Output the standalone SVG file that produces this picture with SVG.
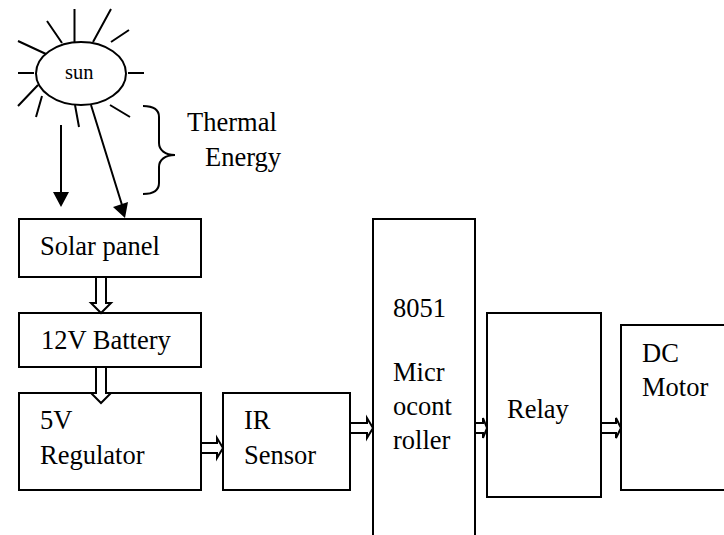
<svg xmlns="http://www.w3.org/2000/svg" width="724" height="535" viewBox="0 0 724 535">
<style>
.b{fill:#fff;stroke:#000;stroke-width:2}
.l{fill:none;stroke:#000;stroke-width:2}
.a{fill:#fff;stroke:#000;stroke-width:2}
.h{fill:#000;stroke:none}
text{font-family:"Liberation Serif","Times New Roman",serif;font-size:26.5px;fill:#000}
</style>
<rect width="724" height="535" fill="#fff"/>
<g id="sun"><ellipse class="b" cx="81" cy="73.500" rx="45" ry="31.500"/><text x="65" y="79" style="font-size:20.500px">sun</text>
<path class="l" d="M74.500 9V42M111 9L93 42M47 21L62 43M129 30L111 42M18 41L46 54M18 73H34M128 73H144M18 106L38 85M42 96L36 117M75 105L79 127M110 105L130 117"/></g>
<g id="solar-panel"><rect class="b" x="19" y="219" width="182" height="58"/><text x="40" y="255">Solar panel</text></g>
<g id="battery"><rect class="b" x="19" y="313" width="182" height="54"/><text x="41" y="349">12V Battery</text></g>
<g id="regulator"><rect class="b" x="19" y="393" width="182" height="97"/><text x="40" y="429">5V</text><text x="40" y="464">Regulator</text></g>
<g id="ir-sensor"><rect class="b" x="223" y="393" width="127" height="97"/><text x="244" y="429">IR</text><text x="244" y="464">Sensor</text></g>
<g id="microcontroller"><path class="b" d="M373 536V219H475V536"/><text x="393" y="317">8051</text><text x="393" y="381">Micr</text><text x="393" y="415">ocont</text><text x="393" y="449">roller</text></g>
<g id="relay"><rect class="b" x="487" y="313" width="114" height="184"/><text x="507" y="418">Relay</text></g>
<g id="dc-motor"><path class="b" d="M725 325H621V490H725"/><text x="642" y="362">DC</text><text x="642" y="396">Motor</text></g>
<g id="thermal-energy"><text x="187" y="131">Thermal</text><text x="205" y="166">Energy</text><path class="l" d="M143 106C153 106 159 109 159 117V143C159 150 165 155 175 155C165 155 159 160 159 167V183C159 191 153 194 143 194"/></g>
<g id="connectors">
<path class="l" d="M61 125V195M91 105L122 205"/>
<path class="h" d="M53 192H69L61 207ZM113 207L128 202L125 218Z"/>
<path class="a" d="M96 277V303H91L101 313L111 303H106V277Z"/>
<path class="a" d="M96 367V393H91L101 403L111 393H106V367Z"/>
<path class="a" d="M201 443H217V438L223 448L217 458V453H201Z"/>
<path class="a" d="M350 423H367V418L373 428L367 438V433H350Z"/>
<path class="a" d="M475 423H483V418L487 428L483 438V433H475Z"/>
<path class="a" d="M601 423H616V418L621 428L616 438V433H601Z"/>
</g>
</svg>
